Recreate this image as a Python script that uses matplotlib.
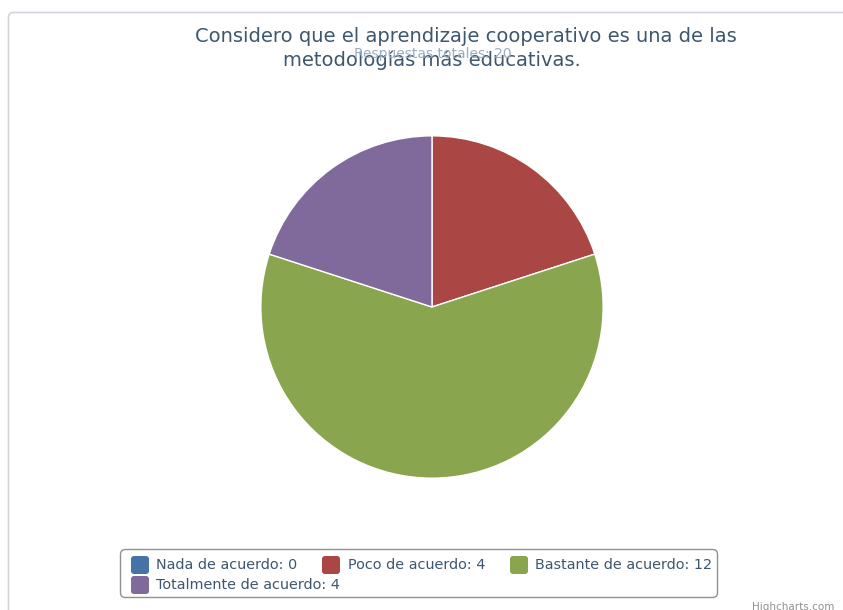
import matplotlib
matplotlib.use('Agg')
import matplotlib.pyplot as plt
from matplotlib.patches import FancyBboxPatch

# survey answers
labels = ['Nada de acuerdo', 'Poco de acuerdo', 'Bastante de acuerdo', 'Totalmente de acuerdo']
counts = [0, 4, 12, 4]
colors = ['#4572A7', '#AA4643', '#89A54E', '#80699B']

title_lines = ['Considero que el aprendizaje cooperativo es una de las',
               'metodologías más educativas.']
subtitle = 'Respuestas totales: %d' % sum(counts)

W, H = 843, 610
fig = plt.figure(figsize=(W / 100, H / 100), dpi=100)
ax = fig.add_axes([0, 0, 1, 1])
ax.set_xlim(0, W)
ax.set_ylim(H, 0)
ax.axis('off')

# chart frame
ax.add_patch(FancyBboxPatch((8.5, 12.5), 900, 700, boxstyle='round,pad=0,rounding_size=5',
                            facecolor='white', edgecolor='#d4d4dc', linewidth=1.2))

# pie, in a separate axes so it stays round
cx, cy, r = 432, 307, 172
pax = fig.add_axes([(cx - r) / W, 1 - (cy + r) / H, 2 * r / W, 2 * r / H])
pax.pie(counts, colors=colors, startangle=90, counterclock=False,
        wedgeprops=dict(edgecolor='white', linewidth=1))
pax.set_xlim(-1.005, 1.005)
pax.set_ylim(-1.005, 1.005)
pax.set_aspect('equal')

# title and subtitle
ax.text(466, 37, title_lines[0], ha='center', va='center', fontsize=14, color='#3E576F')
ax.text(432, 60, title_lines[1], ha='center', va='center', fontsize=14, color='#3E576F')
ax.text(433, 54, subtitle, ha='center', va='center', fontsize=10, color='#9AAEC2')

# legend
ax.add_patch(FancyBboxPatch((120.5, 549.5), 597, 48, boxstyle='round,pad=0,rounding_size=5',
                            facecolor='white', edgecolor='#909090', linewidth=1))
swatch_x = [131, 322, 510, 131]
text_x = [156, 348, 535, 156]
row_y = [565, 565, 565, 585]
for lab, n, c, sx, tx, y in zip(labels, counts, colors, swatch_x, text_x, row_y):
    ax.add_patch(FancyBboxPatch((sx, y - 9), 18, 18, boxstyle='round,pad=0,rounding_size=3',
                                facecolor=c, edgecolor='none'))
    ax.text(tx, y, '%s: %d' % (lab, n), ha='left', va='center', fontsize=10.4, color='#3E576F')

ax.text(752, 607, 'Highcharts.com', ha='left', va='center', fontsize=7.5, color='#909090')

fig.savefig('out.png', dpi=100)
